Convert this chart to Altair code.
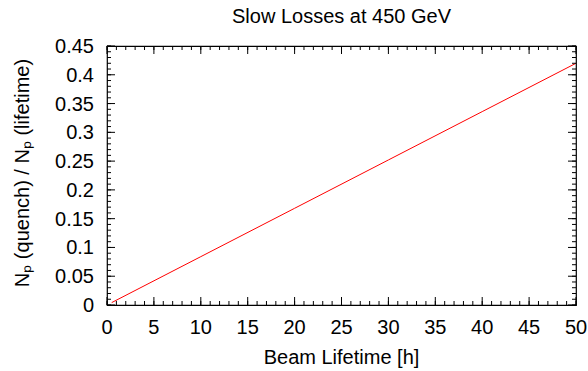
import altair as alt
import pandas as pd

# ---- data ----
lifetime = [0.5, 10, 20, 30, 40, 50]
ratio = [0.0042, 0.084, 0.168, 0.252, 0.336, 0.42]

x_major = [0, 5, 10, 15, 20, 25, 30, 35, 40, 45, 50]
x_labels = ["0", "5", "10", "15", "20", "25", "30", "35", "40", "45", "50"]
y_major = [0, 0.05, 0.1, 0.15, 0.2, 0.25, 0.3, 0.35, 0.4, 0.45]
y_labels = ["0", "0.05", "0.1", "0.15", "0.2", "0.25", "0.3", "0.35", "0.4", "0.45"]
x_minor = list(range(0, 51))
y_minor = [round(i * 0.01, 2) for i in range(46)]

TITLE = "Slow Losses at 450 GeV"
X_TITLE = "Beam Lifetime [h]"
Y_TITLE = "Nₚ (quench) / Nₚ (lifetime)"

W, H = 469, 259
FONT = "Liberation Sans"
FS = 20
MAJ, MIN = 8, 4

xs = alt.Scale(domain=[0, 50], nice=False, zero=False)
ys = alt.Scale(domain=[0, 0.45], nice=False, zero=False)

df = pd.DataFrame({"lifetime": lifetime, "ratio": ratio})

line = alt.Chart(df).mark_line(color="#ff0000", strokeWidth=1).encode(
    x=alt.X("lifetime:Q", scale=xs, axis=None),
    y=alt.Y("ratio:Q", scale=ys, axis=None),
)


def xticks(vals, size):
    d = pd.DataFrame({"v": vals})
    bottom = alt.Chart(d).mark_rule(color="black", strokeWidth=1).encode(
        x=alt.X("v:Q", scale=xs, axis=None), y=alt.value(H), y2=alt.value(H - size))
    top = alt.Chart(d).mark_rule(color="black", strokeWidth=1).encode(
        x=alt.X("v:Q", scale=xs, axis=None), y=alt.value(0), y2=alt.value(size))
    return [bottom, top]


def yticks(vals, size):
    d = pd.DataFrame({"v": vals})
    left = alt.Chart(d).mark_rule(color="black", strokeWidth=1).encode(
        y=alt.Y("v:Q", scale=ys, axis=None), x=alt.value(0), x2=alt.value(size))
    right = alt.Chart(d).mark_rule(color="black", strokeWidth=1).encode(
        y=alt.Y("v:Q", scale=ys, axis=None), x=alt.value(W), x2=alt.value(W - size))
    return [left, right]


xlab = alt.Chart(pd.DataFrame({"v": x_major, "t": x_labels})).mark_text(
    font=FONT, fontSize=FS, color="black", align="center", baseline="alphabetic"
).encode(
    x=alt.X("v:Q", scale=xs, axis=None), y=alt.value(H + 29), text="t:N"
)

ylab = alt.Chart(pd.DataFrame({"v": y_major, "t": y_labels})).mark_text(
    font=FONT, fontSize=FS, color="black", align="right", baseline="middle", dy=1
).encode(
    y=alt.Y("v:Q", scale=ys, axis=None), x=alt.value(-13), text="t:N"
)

xtitle = alt.Chart(pd.DataFrame({"t": [X_TITLE]})).mark_text(
    font=FONT, fontSize=FS, color="black", align="center", baseline="alphabetic"
).encode(x=alt.value(W / 2), y=alt.value(H + 59), text="t:N")

ytitle = alt.Chart(pd.DataFrame({"t": [Y_TITLE]})).mark_text(
    font=FONT, fontSize=FS, color="black", align="center", baseline="alphabetic",
    angle=270
).encode(x=alt.value(-78), y=alt.value(127), text="t:N")

ctitle = alt.Chart(pd.DataFrame({"t": [TITLE]})).mark_text(
    font=FONT, fontSize=FS, color="black", align="center", baseline="alphabetic"
).encode(x=alt.value(W / 2), y=alt.value(-23), text="t:N")

layers = [line]
layers += xticks(x_minor, MIN) + xticks(x_major, MAJ)
layers += yticks(y_minor, MIN) + yticks(y_major, MAJ)
layers += [xlab, ylab, xtitle, ytitle, ctitle]

chart = alt.layer(*layers).properties(
    width=W,
    height=H,
    autosize=alt.AutoSizeParams(type="none"),
    padding={"left": 107, "top": 46, "right": 12, "bottom": 66},
    background="white",
).configure_view(
    stroke="black", strokeWidth=1.2
)

chart.save("out.html", embed_options={"renderer": "svg", "actions": False})
